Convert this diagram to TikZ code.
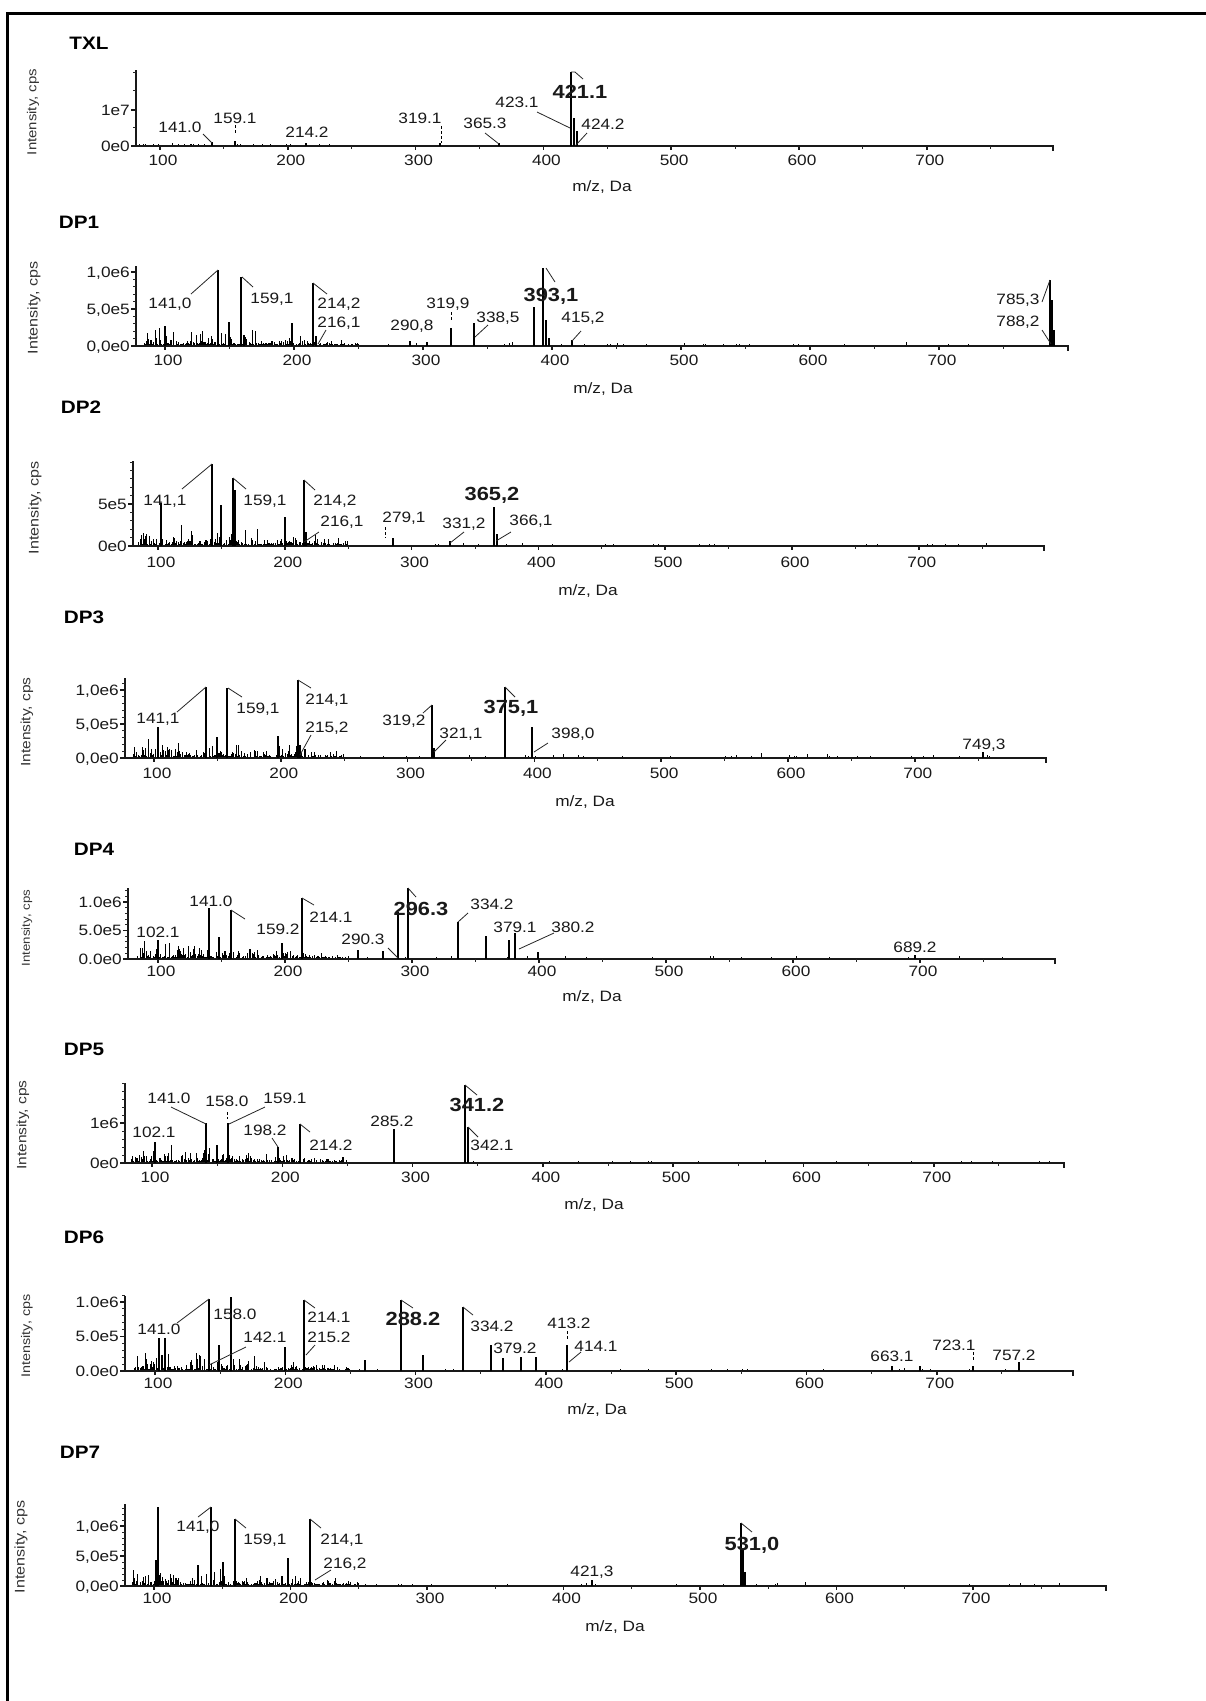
\documentclass[tikz,border=0pt]{standalone}
\usepackage{fontspec}
\newfontfamily\lf[FakeStretch=1.15]{Liberation Sans}
\newcount\lc
\tikzset{
 pk/.style={line width=1.5pt, black},
 ld/.style={line width=0.8pt, black!85},
 dsh/.style={line width=1pt, dash pattern=on 3pt off 2pt},
 ax/.style={line width=1.6pt, black!90},
 axthin/.style={line width=1pt, black!85},
 nz/.style={line width=0.8pt, black},
 lbl/.style={font={\lf\fontsize{15}{15}\selectfont}, inner sep=0pt, text height=10.5pt, text depth=0pt, text=black!90},
 blbl/.style={lbl, font={\lf\bfseries\fontsize{19}{19}\selectfont}, text height=13.5pt},
 ttl/.style={font={\lf\bfseries\fontsize{18}{18}\selectfont}, inner sep=0pt, text height=13pt, text depth=0pt},
 yl/.style={font={\lf\fontsize{#1}{#1}\selectfont}, rotate=90, inner sep=0pt, text=black!80},
}
\newcommand\setpanel[6]{\def\XL{#1}\def\YT{#2}\def\YB{#3}\def\XR{#4}\def\XO{#5}\def\SC{#6}}
\newcommand\drawaxes[1]{%
 \draw[ax] (\XL,\YT) -- (\XL,\YB) -- (\XR,\YB) -- ++(0,5);
 \foreach \m in {100,200,...,700}{\draw[ax] ({\XO+(\m-100)*\SC},\YB) -- ++(0,4);
   \global\advance\lc by 1 \node[lbl] (L\the\lc) at ({\XO+(\m-100)*\SC+3},#1) {\m};}
 \foreach \m in {150,250,...,750}{\draw[axthin] ({\XO+(\m-100)*\SC},\YB) -- ++(0,3);}
}
\newcommand\yticks[3]{\foreach \k in {1,...,#3}{\draw[axthin] (\XL,{#1-\k*#2}) -- ++(-3,0);}}
\newcommand\ytl[2]{\draw[ax] (\XL,#1) -- ++(-5,0); \global\advance\lc by 1 \node[lbl,anchor=east] (L\the\lc) at ({\XL-6},#1) {#2};}
\newcommand\pk[2]{\draw[pk] (#1,\YB) -- (#1,#2);}
\newcommand\ld[4]{\draw[ld] (#1,#2) -- (#3,#4);}
\newcommand\dsh[3]{\draw[dsh] (#1,#2) -- (#1,#3);}
\newcommand\lb[4][lbl]{\global\advance\lc by 1 \node[#1] (L\the\lc) at (#2,#3) {#4};}
\newcommand\noise[3]{%
 \pgfmathsetseed{#1}%
 \foreach \m in {84,84.6,...,250}{\pgfmathsetmacro\h{#2*rnd*rnd*rnd*(1.25-(\m-84)/190)+1}\draw[nz] ({\XO+(\m-100)*\SC},\YB) -- ++(0,-\h);}
 \foreach \m in {251,253,...,790}{\pgfmathsetmacro\h{#3*rnd*rnd*rnd*rnd+0.3}\draw[nz] ({\XO+(\m-100)*\SC},\YB) -- ++(0,-\h);}
}
\begin{document}
\begin{tikzpicture}[x=1pt,y=-1pt]
\fill[white] (0,0) rectangle (1206,1701);
\useasboundingbox (0,0) rectangle (1206,1701);
\draw[line width=3pt] (7.7,1702) -- (7.7,13) -- (1207,13);

% ---------------- TXL
\setpanel{136}{70}{146}{1053}{160}{1.278}
\noise{11}{2}{2}
\drawaxes{160}
\yticks{146}{18.5}{4}
\ytl{110}{1e7}\ytl{146}{0e0}
\pk{212}{142}\pk{235}{141}\pk{306}{143}\pk{440}{143}\pk{499}{143}
\draw[pk,line width=2.2pt] (571,\YB) -- (571,72);
\pk{574}{118}\pk{577}{131}
\dsh{235}{125}{133}\dsh{441}{126}{143}
\ld{203}{134}{212}{143}\ld{485}{133}{499}{144}\ld{537}{112}{570}{128}\ld{587}{133}{576}{145}
\draw[ld] (571,72) -- (575,72) -- (583,79);
\lb{180}{127}{141.0}\lb{235}{118}{159.1}\lb{307}{132}{214.2}\lb{420}{118}{319.1}\lb{485}{123}{365.3}\lb{517}{102}{423.1}\lb[blbl]{580}{92}{421.1}\lb{603}{124}{424.2}
\node[ttl] (tTXL) at (89,43) {TXL};
\node[yl=13] (iTXL) at (33,112) {Intensity, cps};
\node[lbl] (mTXL) at (602,186) {m/z, Da};

% ---------------- DP1
\setpanel{136}{266}{346}{1068}{165}{1.29}
\noise{21}{22}{6}
\drawaxes{360}
\yticks{346}{7.4}{10}
\ytl{272}{1,0e6}\ytl{309}{5,0e5}\ytl{346}{0,0e0}
\pk{165}{326}\pk{218}{270}\pk{229}{322}\pk{241}{277}\pk{244}{335}\pk{292}{323}\pk{313}{283}\pk{316}{336}\pk{410}{341}\pk{427}{342}\pk{451}{328}\pk{474}{323}\pk{534}{307}\pk{543}{268}\pk{546}{320}\pk{549}{338}\pk{572}{340}\pk{1050}{280}\pk{1052}{300}\pk{1054}{330}
\dsh{451}{312}{321}
\ld{191}{294}{218}{270}\ld{242}{277}{253}{287}\ld{313}{283}{327}{294}\ld{318}{344}{326}{330}\ld{475}{337}{488}{325}\ld{546}{268}{555}{282}\ld{572}{341}{581}{331}\ld{1042}{302}{1050}{280}\ld{1042}{330}{1051}{344}
\lb{170}{303}{141,0}\lb{272}{298}{159,1}\lb{339}{303}{214,2}\lb{339}{322}{216,1}\lb{412}{325}{290,8}\lb{448}{303}{319,9}\lb{498}{317}{338,5}\lb[blbl]{551}{295}{393,1}\lb{583}{317}{415,2}\lb{1018}{299}{785,3}\lb{1018}{321}{788,2}
\node[ttl] (tDP1) at (79,222) {DP1};
\node[yl=14] (iDP1) at (34,308) {Intensity, cps};
\node[lbl] (mDP1) at (603,388) {m/z, Da};

% ---------------- DP2
\setpanel{133}{461}{546}{1044}{158}{1.268}
\noise{31}{26}{6}
\drawaxes{562}
\yticks{546}{8.4}{10}
\ytl{504}{5e5}\ytl{546}{0e0}
\pk{161}{503}\pk{212}{464}\pk{221}{505}\pk{233}{478}\pk{235}{490}\pk{285}{517}\pk{304}{480}\pk{306}{532}\pk{393}{538}\pk{450}{541}\pk{494}{507}\pk{497}{534}
\dsh{385}{527}{538}
\ld{182}{489}{212}{464}\ld{233}{478}{246}{489}\ld{304}{480}{315}{490}\ld{304}{542}{319}{532}\ld{450}{543}{464}{532}\ld{496}{541}{511}{532}
\lb{165}{500}{141,1}\lb{265}{500}{159,1}\lb{335}{500}{214,2}\lb{342}{521}{216,1}\lb{404}{517}{279,1}\lb{464}{523}{331,2}\lb[blbl]{492}{494}{365,2}\lb{531}{520}{366,1}
\node[ttl] (tDP2) at (81,407) {DP2};
\node[yl=14] (iDP2) at (35,508) {Intensity, cps};
\node[lbl] (mDP2) at (588,590) {m/z, Da};

% ---------------- DP3
\setpanel{125}{678}{758}{1046}{154}{1.268}
\noise{41}{24}{6}
\drawaxes{773}
\yticks{758}{6.8}{11}
\ytl{690}{1,0e6}\ytl{724}{5,0e5}\ytl{758}{0,0e0}
\pk{158}{727}\pk{206}{687}\pk{217}{737}\pk{227}{688}\pk{278}{736}\pk{298}{680}\pk{300}{745}\pk{432}{705}\pk{434}{748}\pk{505}{687}\pk{532}{727}\pk{983}{752}
\ld{177}{712}{206}{687}\ld{228}{688}{242}{697}\ld{298}{680}{311}{688}\ld{300}{755}{311}{735}\ld{432}{705}{423}{713}\ld{434}{752}{446}{740}\ld{505}{687}{515}{697}\ld{534}{752}{548}{743}
\lb{158}{718}{141,1}\lb{258}{708}{159,1}\lb{327}{699}{214,1}\lb{327}{727}{215,2}\lb{404}{720}{319,2}\lb{461}{733}{321,1}\lb[blbl]{511}{707}{375,1}\lb{573}{733}{398,0}\lb{984}{744}{749,3}
\node[ttl] (tDP3) at (84,617) {DP3};
\node[yl=13.5] (iDP3) at (27,722) {Intensity, cps};
\node[lbl] (mDP3) at (585,801) {m/z, Da};

% ---------------- DP4
\setpanel{128}{888}{959}{1055}{158}{1.27}
\noise{51}{22}{6}
\drawaxes{971}
\yticks{959}{5.7}{12}
\ytl{902}{1.0e6}\ytl{930.5}{5.0e5}\ytl{959}{0.0e0}
\pk{158}{940}\pk{209}{908}\pk{219}{937}\pk{231}{910}\pk{282}{943}\pk{302}{898}\pk{358}{950}\pk{383}{951}\pk{398}{912}\pk{408}{888}\pk{458}{922}\pk{486}{936}\pk{509}{940}\pk{515}{933}\pk{538}{952}\pk{915}{955}
\ld{231}{910}{245}{919}\ld{302}{898}{314}{905}\ld{388}{948}{398}{958}\ld{408}{888}{416}{897}\ld{458}{922}{468}{913}\ld{519}{949}{554}{933}
\lb{158}{932}{102.1}\lb{211}{901}{141.0}\lb{278}{929}{159.2}\lb{331}{917}{214.1}\lb{363}{939}{290.3}\lb[blbl]{421}{909}{296.3}\lb{492}{904}{334.2}\lb{515}{927}{379.1}\lb{573}{927}{380.2}\lb{915}{947}{689.2}
\node[ttl] (tDP4) at (94,849) {DP4};
\node[yl=11.5] (iDP4) at (27,928) {Intensity, cps};
\node[lbl] (mDP4) at (592,996) {m/z, Da};

% ---------------- DP5
\setpanel{125}{1083}{1163}{1064}{152}{1.303}
\noise{61}{20}{5}
\drawaxes{1177}
\yticks{1163}{8}{10}
\ytl{1123}{1e6}\ytl{1163}{0e0}
\pk{155}{1142}\pk{206}{1123}\pk{217}{1145}\pk{228}{1123}\pk{278}{1147}\pk{300}{1124}\pk{394}{1129}\pk{465}{1085}\pk{468}{1127}
\dsh{227}{1112}{1119}
\ld{171}{1107}{206}{1124}\ld{265}{1107}{229}{1124}\ld{272}{1138}{278}{1147}\ld{300}{1124}{310}{1132}\ld{465}{1085}{477}{1095}\ld{468}{1127}{478}{1137}
\lb{169}{1098}{141.0}\lb{227}{1101}{158.0}\lb{285}{1098}{159.1}\lb{154}{1132}{102.1}\lb{265}{1130}{198.2}\lb{331}{1145}{214.2}\lb{392}{1121}{285.2}\lb[blbl]{477}{1105}{341.2}\lb{492}{1145}{342.1}
\node[ttl] (tDP5) at (84,1049) {DP5};
\node[yl=13.5] (iDP5) at (23,1125) {Intensity, cps};
\node[lbl] (mDP5) at (594,1204) {m/z, Da};

% ---------------- DP6
\setpanel{125}{1296}{1371}{1073}{155}{1.303}
\noise{71}{24}{6}
\drawaxes{1383}
\yticks{1371}{6.9}{11}
\ytl{1302}{1.0e6}\ytl{1336.5}{5.0e5}\ytl{1371}{0.0e0}
\pk{159}{1338}\pk{165}{1338}\pk{209}{1299}\pk{219}{1345}\pk{231}{1297}\pk{285}{1347}\pk{304}{1300}\pk{365}{1360}\pk{401}{1300}\pk{423}{1355}\pk{463}{1307}\pk{491}{1345}\pk{503}{1358}\pk{521}{1357}\pk{536}{1357}\pk{567}{1345}\pk{892}{1366}\pk{920}{1366}\pk{973}{1366}\pk{1019}{1362}
\dsh{567}{1331}{1340}\dsh{973}{1352}{1361}
\ld{177}{1323}{209}{1299}\ld{209}{1365}{246}{1347}\ld{304}{1300}{315}{1308}\ld{306}{1355}{315}{1345}\ld{401}{1300}{413}{1308}\ld{463}{1307}{473}{1315}\ld{569}{1362}{581}{1352}
\lb{159}{1329}{141.0}\lb{235}{1314}{158.0}\lb{265}{1337}{142.1}\lb{329}{1317}{214.1}\lb{329}{1337}{215.2}\lb[blbl]{413}{1319}{288.2}\lb{492}{1326}{334.2}\lb{515}{1348}{379.2}\lb{569}{1323}{413.2}\lb{596}{1346}{414.1}\lb{892}{1356}{663.1}\lb{954}{1345}{723.1}\lb{1014}{1355}{757.2}
\node[ttl] (tDP6) at (84,1237) {DP6};
\node[yl=12.5] (iDP6) at (27,1336) {Intensity, cps};
\node[lbl] (mDP6) at (597,1409) {m/z, Da};

% ---------------- DP7
\setpanel{125}{1504}{1586}{1106}{154}{1.365}
\noise{81}{24}{6}
\drawaxes{1598}
\yticks{1586}{6}{13}
\ytl{1526}{1,0e6}\ytl{1556}{5,0e5}\ytl{1586}{0,0e0}
\pk{158}{1507}\pk{156}{1560}\pk{198}{1565}\pk{211}{1507}\pk{223}{1562}\pk{235}{1519}\pk{288}{1558}\pk{310}{1519}\pk{592}{1580}\pk{741}{1523}\pk{743}{1550}\pk{745}{1572}
\ld{198}{1517}{211}{1507}\ld{235}{1519}{246}{1528}\ld{310}{1519}{321}{1528}\ld{315}{1580}{331}{1570}\ld{741}{1523}{752}{1532}
\lb{198}{1526}{141,0}\lb{265}{1539}{159,1}\lb{342}{1539}{214,1}\lb{345}{1563}{216,2}\lb{592}{1571}{421,3}\lb[blbl]{752}{1544}{531,0}
\node[ttl] (tDP7) at (80,1452) {DP7};
\node[yl=14] (iDP7) at (21,1547) {Intensity, cps};
\node[lbl] (mDP7) at (615,1626) {m/z, Da};
\end{tikzpicture}
\end{document}
